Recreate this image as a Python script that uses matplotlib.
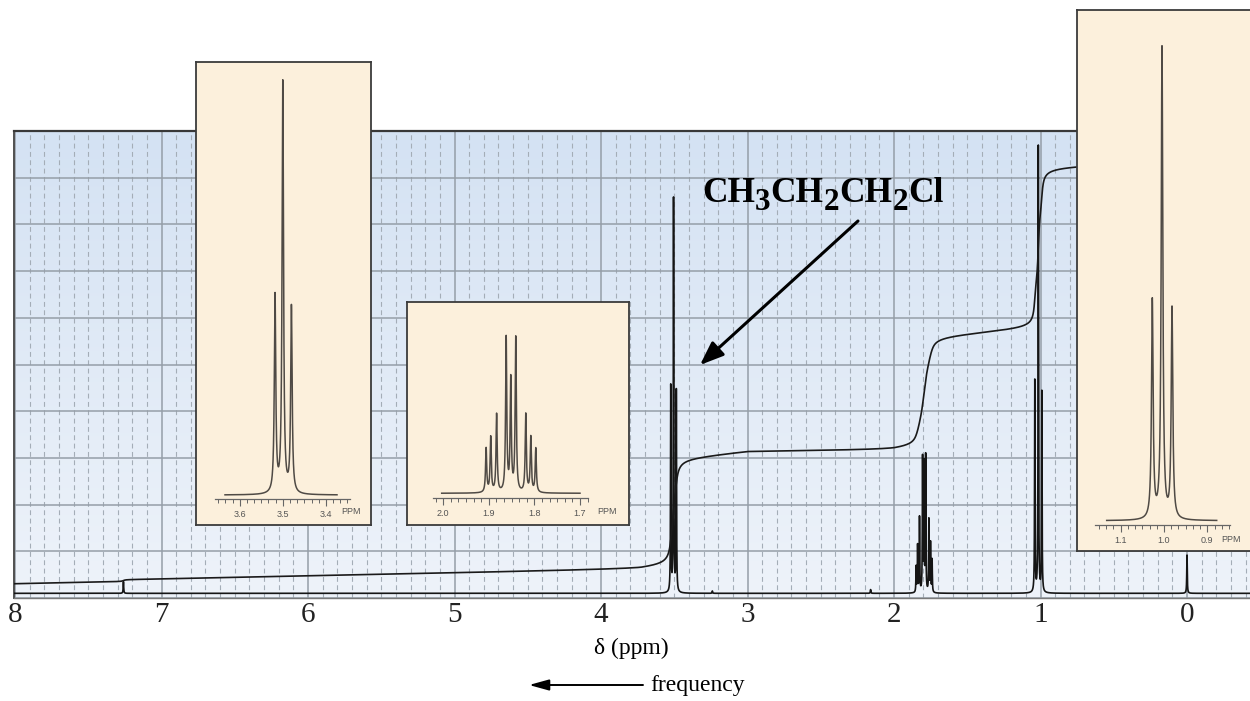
import numpy as np
import matplotlib.pyplot as plt
from matplotlib.colors import LinearSegmentedColormap
from matplotlib.patches import FancyArrowPatch
from matplotlib.ticker import FixedLocator, MultipleLocator, NullLocator
from matplotlib.transforms import IdentityTransform

plt.rcParams['lines.scale_dashes'] = False

W, H = 1250, 701
SERIF = 'Liberation Serif'
SANS = 'Liberation Sans'

# full spectrum: line positions (ppm) and heights (grid divisions above baseline)
BASELINE = 0.1
ch2cl_ppm = [3.524, 3.505, 3.486]
ch2cl_height = [4.40, 8.41, 4.30]
ch2_ppm = [1.849, 1.839, 1.826, 1.805, 1.795, 1.784, 1.762, 1.751, 1.740]
ch2_height = [0.55, 1.0, 1.6, 2.85, 2.7, 2.9, 1.55, 1.05, 0.7]
ch3_ppm = [1.039, 1.015, 0.991]
ch3_height = [4.53, 9.55, 4.29]
other_ppm = [7.26, 3.24, 2.16, 0.0]
other_height = [0.25, 0.05, 0.08, 0.82]

# integral trace: rise per signal, its smoothing width, and the integrator drift
step_size = [0.04, 2.30, 2.38, 3.45]
step_width = [0.01, 0.012, 0.015, 0.008]
drift_ppm = [-0.43, 1.1, 2.0, 3.0, 3.73, 8.01]
drift_level = [1.30, 1.05, 0.82, 0.80, 0.57, 0.30]

# expansions (heights in pixels above the inset baseline)
exp1_ppm = [3.518, 3.500, 3.480]
exp1_height = [197, 411, 186]
exp2_ppm = [1.906, 1.896, 1.883, 1.862, 1.852, 1.841, 1.819, 1.808, 1.797]
exp2_height = [44, 55, 78, 154, 112, 154, 78, 55, 44]
exp3_ppm = [1.027, 1.0046, 0.9815]
exp3_height = [218, 471, 210]

shift_ticks = [8, 7, 6, 5, 4, 3, 2, 1, 0]
exp1_ticks = [3.6, 3.5, 3.4]
exp2_ticks = [2.0, 1.9, 1.8, 1.7]
exp3_ticks = [1.1, 1.0, 0.9]


def lorentz(x, centers, heights, w):
    d = x[:, None] - np.asarray(centers)[None, :]
    return (np.asarray(heights, float) * w**2 / (d**2 + w**2)).sum(axis=1)


def integral_step(x, centers, heights, size, w):
    c = np.asarray(centers)
    wt = np.asarray(heights, float)
    wt = wt / wt.sum()
    cdf = 0.5 + np.arctan((c[None, :] - x[:, None]) / w) / np.pi
    return size * (cdf * wt).sum(axis=1)


def rect(x0, y0, x1, y1):
    # pixel box measured from the top-left corner -> figure fraction
    return [x0 / W, 1 - y1 / H, (x1 - x0) / W, (y1 - y0) / H]


fig = plt.figure(figsize=(W / 100, H / 100), dpi=100)

# ---------------- main spectrum ----------------
XMAX, XMIN = 8.007, -0.43
ax = fig.add_axes(rect(14, 131, 1250, 598))
bg = LinearSegmentedColormap.from_list('bg', ['#eef3fa', '#d4e2f3'])
ax.imshow(np.linspace(0, 1, 256)[:, None], extent=[XMAX, XMIN, 0, 10], origin='lower',
          aspect='auto', cmap=bg, zorder=0, interpolation='bicubic')
ax.set_xlim(XMAX, XMIN)
ax.set_ylim(0, 10)

ax.xaxis.set_major_locator(FixedLocator(shift_ticks))
ax.set_xticklabels([str(t) for t in shift_ticks], fontsize=21, family=SERIF, color='#222222')
ax.xaxis.set_minor_locator(MultipleLocator(0.1))
ax.yaxis.set_major_locator(MultipleLocator(1))
ax.set_yticklabels([])
ax.tick_params(which='both', length=0)
ax.tick_params(axis='x', pad=3)
ax.grid(which='major', color='#959ea8', lw=1.1, ls='-')
ax.grid(which='minor', axis='x', color='#a4adb7', lw=0.8, ls=(0, (3.5, 2.5)))

for side, col, lw in [('top', '#383838', 1.6), ('left', '#505050', 1.4), ('bottom', '#7a7a7a', 1.0)]:
    ax.spines[side].set_color(col)
    ax.spines[side].set_linewidth(lw)
ax.spines['right'].set_visible(False)

x = np.linspace(XMAX, XMIN, 30000)
x = np.sort(np.concatenate([x, ch2cl_ppm, ch2_ppm, ch3_ppm, other_ppm]))[::-1]
spec = (BASELINE
        + lorentz(x, ch2cl_ppm, ch2cl_height, 0.0018)
        + lorentz(x, ch2_ppm, ch2_height, 0.0018)
        + lorentz(x, ch3_ppm, ch3_height, 0.0018)
        + lorentz(x, other_ppm, other_height, 0.002))
ax.plot(x, spec, color='#151515', lw=1.2, zorder=3)

groups = [([7.26], [1.0]), (ch2cl_ppm, ch2cl_height), (ch2_ppm, ch2_height), (ch3_ppm, ch3_height)]
integ = np.interp(x, drift_ppm, drift_level)
for (pos, hts), size, w in zip(groups, step_size, step_width):
    integ = integ + integral_step(x, pos, hts, size, w)
ax.plot(x, integ, color='#1a1a1a', lw=1.2, zorder=3)


# ---------------- expansions ----------------
def expansion(box, ref_ppm, ref_px, px_per_ppm, base_px, axis_px, scale_px, trace_px,
              label_y, ppm_px, ticks, lines, heights, w):
    x0, y0, x1, y1 = box

    def to_ppm(px):
        return ref_ppm - (px - ref_px) / px_per_ppm

    iax = fig.add_axes(rect(x0, y0, x1, y1))
    iax.set_facecolor('#fcf0dc')
    iax.set_xlim(to_ppm(x0), to_ppm(x1))
    iax.set_ylim(-(y1 - base_px), base_px - y0)
    iax.set_xticks([])
    iax.set_yticks([])
    for s in iax.spines.values():
        s.set_color('#3b3b3b')
        s.set_linewidth(1.3)

    xs = np.linspace(to_ppm(trace_px[0]), to_ppm(trace_px[1]), 6000)
    xs = np.sort(np.concatenate([xs, lines]))[::-1]
    iax.plot(xs, lorentz(xs, lines, heights, w), color='#4f4a45', lw=1.1)

    # ppm scale: a flat helper axes whose bottom spine is the scale line
    sax = fig.add_axes(rect(x0, axis_px, x1, axis_px + 0.5))
    sax.patch.set_visible(False)
    sax.set_xlim(to_ppm(x0), to_ppm(x1))
    for side in ('top', 'left', 'right'):
        sax.spines[side].set_visible(False)
    lo, hi = sorted((to_ppm(scale_px[0]), to_ppm(scale_px[1])))
    sax.spines['bottom'].set_bounds(lo, hi)
    sax.spines['bottom'].set_color('#666666')
    sax.spines['bottom'].set_linewidth(0.9)
    sax.yaxis.set_major_locator(NullLocator())
    sax.set_xticks(ticks, [f'{t:.1f}' for t in ticks], fontsize=6.5, family=SANS, color='#555555')
    minor = [k / 60 for k in range(int(np.ceil(lo * 60)), int(np.floor(hi * 60)) + 1)]
    sax.xaxis.set_minor_locator(FixedLocator(minor))
    sax.tick_params(which='major', direction='out', length=4.8, width=0.8, color='#666666', pad=3.2)
    sax.tick_params(which='minor', direction='out', length=3.0, width=0.7, color='#666666')
    fig.text(ppm_px / W, 1 - label_y / H, 'PPM', ha='center', va='center',
             fontsize=6.5, family=SANS, color='#555555')


expansion((196, 61.7, 371, 525), 3.5, 282.8, 431, 495, 498.3, (215, 350), (225, 337),
          512, 350.7, exp1_ticks, exp1_ppm, exp1_height, 0.002)
expansion((406.7, 302.3, 629.3, 525), 2.0, 443.3, 455.6, 493.3, 497.7, (433.3, 588.3),
          (441.7, 580), 511.7, 607.5, exp2_ticks, exp2_ppm, exp2_height, 0.0015)
expansion((1076.6, 10, 1262, 551), 1.0, 1164, 433, 520.7, 524, (1095, 1230),
          (1106.7, 1216.7), 539.5, 1231, exp3_ticks, exp3_ppm, exp3_height, 0.0022)

# ---------------- labels ----------------
fig.text(631 / W, 1 - 648 / H, 'δ (ppm)', ha='center', va='center', fontsize=17, family=SERIF)
fig.text(650 / W, 1 - 686 / H, 'frequency', ha='left', va='center', fontsize=17, family=SERIF)
fig.add_artist(FancyArrowPatch((643 / W, 1 - 685 / H), (529 / W, 1 - 685 / H),
                               transform=fig.transFigure, arrowstyle='-|>,head_length=0.8,head_width=0.22',
                               mutation_scale=15, lw=1.4, color='black', shrinkA=0, shrinkB=0))

# compound name, written piece by piece so the subscripts stay large
renderer = fig.canvas.get_renderer()
name_parts = [('CH', False), ('3', True), ('CH', False), ('2', True), ('CH', False), ('2', True), ('Cl', False)]
xpos = 702.0
for txt, sub in name_parts:
    t = fig.text(xpos, H - 201.7 - (8.5 if sub else 0), txt, transform=IdentityTransform(),
                 fontsize=22.5 if sub else 25.5, fontweight='bold', family=SERIF,
                 ha='left', va='baseline', color='black')
    xpos += t.get_window_extent(renderer).width

fig.add_artist(FancyArrowPatch((858 / W, 1 - 221 / H), (700 / W, 1 - 365 / H),
                               transform=fig.transFigure, arrowstyle='-|>,head_length=0.9,head_width=0.35',
                               mutation_scale=16, lw=2.2, color='black', shrinkA=0, shrinkB=0))

fig.savefig('out.png', dpi=100)
